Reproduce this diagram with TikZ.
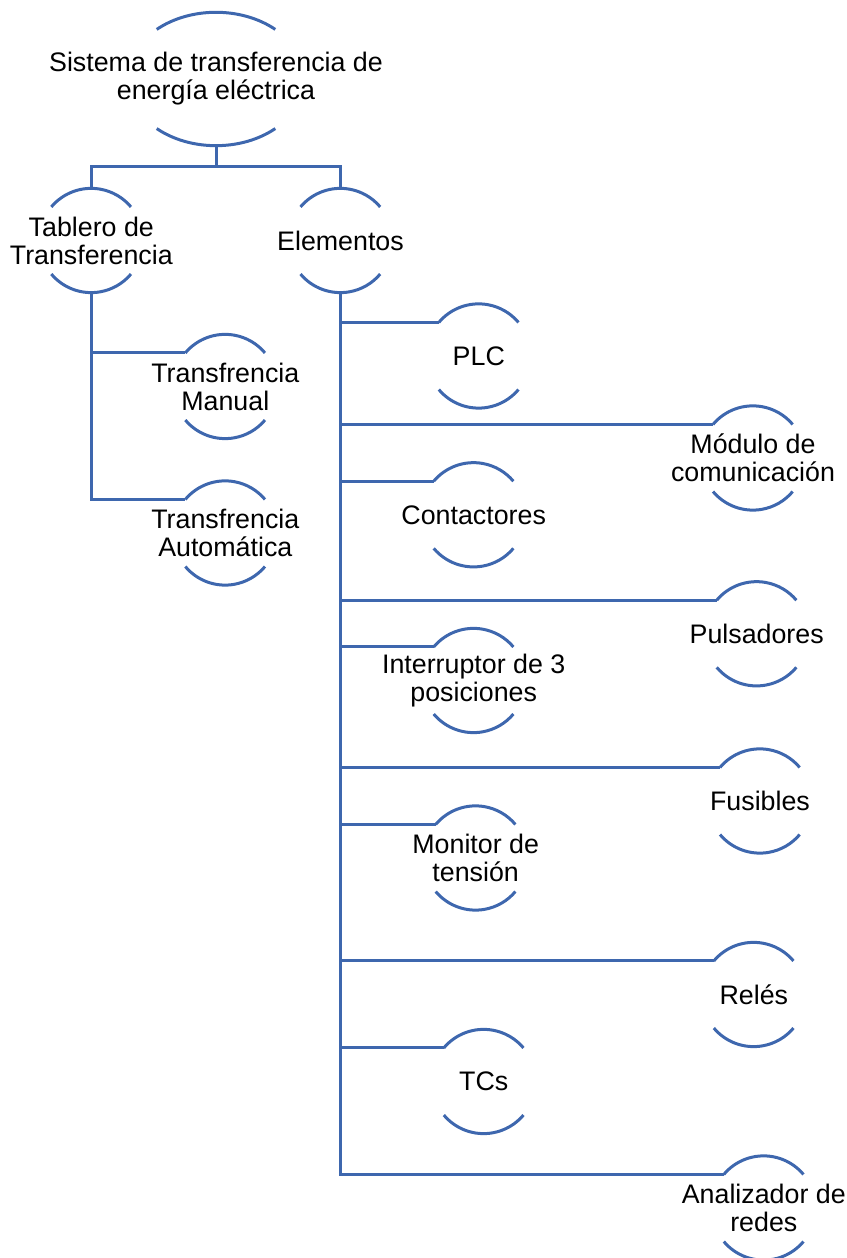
\documentclass[tikz,border=0pt]{standalone}
\usepackage{fontspec}
\setmainfont{Liberation Sans}
\usetikzlibrary{shapes.geometric}
\definecolor{ln}{RGB}{62,103,174}
\tikzset{
  bub/.style={circle,minimum size=104pt,inner sep=0pt,draw=none},
  rootbub/.style={ellipse,minimum width=177.2pt,minimum height=133.4pt,inner sep=0pt,draw=none},
  txt/.style={inner sep=0pt,align=center,text=black,font=\fontsize{26.8}{28}\selectfont},
  con/.style={draw=ln,line width=3pt},
}
\newcommand\bubble[3]{%
  \node[bub] (#1) at (#2) {};
  \node[txt] (#1-t) at (#1.center) {#3};
  \draw[con] (#1.140) arc[start angle=140,end angle=40,radius=52pt];
  \draw[con] (#1.220) arc[start angle=220,end angle=320,radius=52pt];
}
\begin{document}
\begin{tikzpicture}[x=1pt,y=1pt]
\useasboundingbox (0,0) rectangle (846,1258);
% root
\node[rootbub] (top) at (216,1179) {};
\node[txt] (top-t) at (top.center) {Sistema de transferencia de\\energía eléctrica};
\draw[con] ([shift={(132:88.6pt and 66.7pt)}]top.center) arc[start angle=132,end angle=48,x radius=88.6pt,y radius=66.7pt];
\draw[con] ([shift={(228:88.6pt and 66.7pt)}]top.center) arc[start angle=228,end angle=312,x radius=88.6pt,y radius=66.7pt];
% level 1
\bubble{tab}{91.3,1017.5}{Tablero de\\Transferencia}
\bubble{ele}{340.5,1017.5}{Elementos}
% tablero children
\bubble{man}{225.3,871.5}{Transfrencia\\Manual}
\bubble{aut}{225.3,725}{Transfrencia\\Automática}
% elementos children
\bubble{plc}{478.8,902}{PLC}
\bubble{mod}{753,800}{Módulo de\\comunicación}
\bubble{cont}{473.7,743.2}{Contactores}
\bubble{pul}{756.7,624.2}{Pulsadores}
\bubble{intr}{473.7,577.5}{Interruptor de 3\\posiciones}
\bubble{fus}{760,457}{Fusibles}
\bubble{mon}{475.7,400}{Monitor de\\tensión}
\bubble{rel}{753.8,263.5}{Relés}
\bubble{tcs}{483.8,176.5}{TCs}
\bubble{ana}{763.8,50}{Analizador de\\redes}
% connectors
\coordinate (bus) at ([yshift=-21pt]top.south);
\draw[con] (top.south) -- (bus);
\draw[con] (bus) -| (tab.north);
\draw[con] (bus) -| (ele.north);
\draw[con] (tab.south) |- (man.140);
\draw[con] (tab.south) |- (aut.140);
\foreach \c in {plc,mod,cont,pul,intr,fus,mon,rel,tcs,ana}{
  \draw[con] (ele.south) |- (\c.140);
}
\end{tikzpicture}
\end{document}
